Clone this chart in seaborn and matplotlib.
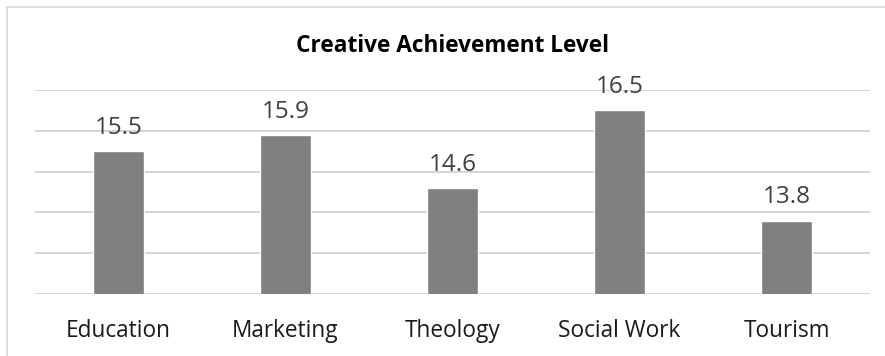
import matplotlib
matplotlib.use("Agg")
import matplotlib.pyplot as plt
import seaborn as sns
import pandas as pd
from matplotlib.patches import Rectangle

categories = ["Education", "Marketing", "Theology", "Social Work", "Tourism"]
values = [15.5, 15.9, 14.6, 16.5, 13.8]
title = "Creative Achievement Level"

sns.set_theme(style="white")
plt.rcParams["font.family"] = ["Open Sans", "DejaVu Sans"]

W, H = 885, 356
fig = plt.figure(figsize=(W / 100, H / 100), dpi=100)
fig.patch.set_facecolor("white")

# outer chart border (only top/left visible in reference)
fig.patches.append(Rectangle((6.5 / W, -0.5), 2.0, 1.5 - 6.5 / H, transform=fig.transFigure,
                             fill=False, edgecolor="#d9d9d9", linewidth=1.3, zorder=0))

left, right, top, bottom = 35, 870, 90, 294
ax = fig.add_axes([left / W, (H - bottom) / H, (right - left) / W, (bottom - top) / H])
ax.set_facecolor("none")

df = pd.DataFrame({"category": categories, "value": values})
sns.barplot(data=df, x="category", y="value", color="#808080", width=0.311,
            saturation=1, ax=ax, zorder=3)

ax.set_ylim(12, 17)
ax.set_yticks([12, 13, 14, 15, 16, 17])
ax.set_yticklabels([])
ax.grid(axis="y", color="#d4d4d4", linewidth=1.4, zorder=0)
ax.set_axisbelow(True)
for s in ax.spines.values():
    s.set_visible(False)
ax.set_xlabel("")
ax.set_ylabel("")
ax.tick_params(axis="both", length=0)
ax.tick_params(axis="x", pad=18, labelsize=16.3, labelcolor="#1a1a1a")
ax.set_xlim(-0.5, len(categories) - 0.5)

for i, v in enumerate(values):
    ax.annotate(f"{v:.1f}", (i, v), xytext=(0, 12.5), textcoords="offset points",
                ha="center", va="baseline", fontsize=17.5, color="#404040")

fig.text((left + right) / 2 / W, 1 - 52 / H, title, ha="center", va="baseline",
         fontsize=16.3, fontweight="bold", color="#000000")

fig.savefig("out.png", dpi=100)
